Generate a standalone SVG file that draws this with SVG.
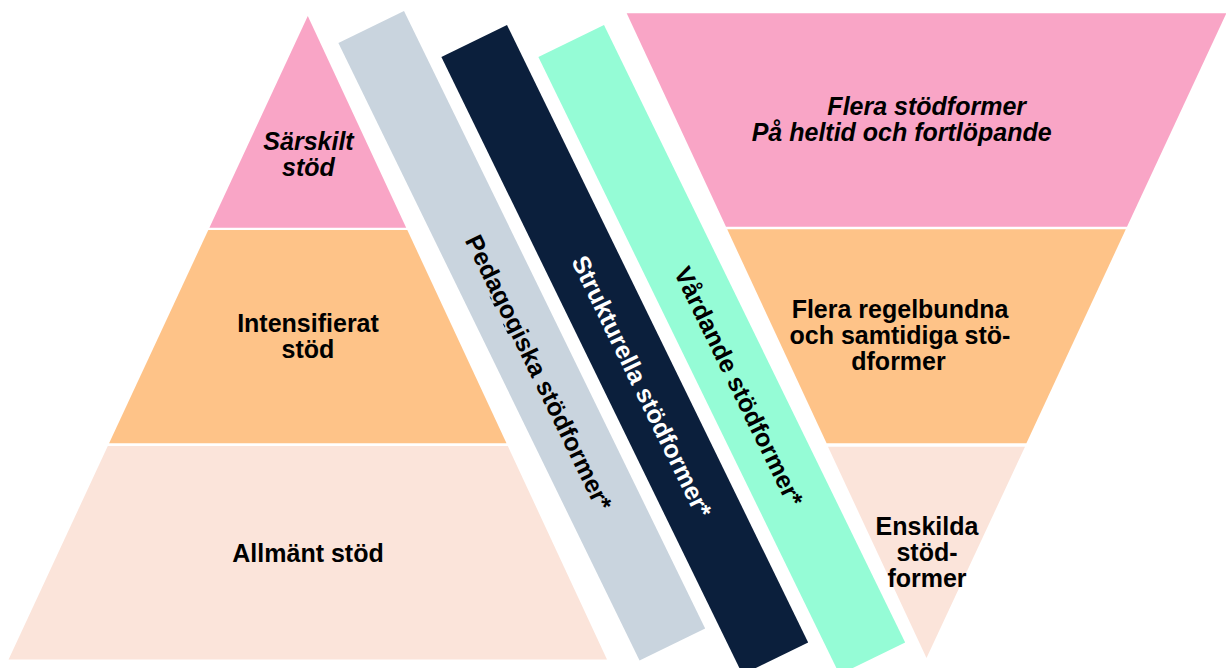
<svg xmlns="http://www.w3.org/2000/svg" width="1226" height="668" viewBox="0 0 1226 668">
  <style>
    .lbl { font-family: "Liberation Sans", Arial, sans-serif; font-size: 25px; font-weight: bold; fill: #000000; text-anchor: middle; }
    .it { font-style: italic; }
    .wht { fill: #ffffff; }
    .pink { fill: #F9A5C6; }
    .orange { fill: #FEC388; }
    .peach { fill: #FBE4DA; }
    .gray { fill: #C9D4DE; }
    .navy { fill: #0B1F3C; }
    .mint { fill: #95FCD6; }
  </style>
  <defs>
    <clipPath id="pedClip">
      <rect x="0" y="-20" width="687" height="68.3"/>
    </clipPath>
  </defs>
  <rect width="1226" height="668" fill="#ffffff"/>

  <!-- Left pyramid -->
  <g id="sarskilt-stod">
    <polygon class="pink" points="307.8,16 406.2,227.7 209.4,227.7"/>
    <text class="lbl it" x="308.5" y="150">Särskilt</text>
    <text class="lbl it" x="308.5" y="176">stöd</text>
  </g>
  <g id="intensifierat-stod">
    <polygon class="orange" points="208.3,230 407.3,230 506.5,443.3 109.1,443.3"/>
    <text class="lbl" x="308" y="331.7">Intensifierat</text>
    <text class="lbl" x="308" y="358.3">stöd</text>
  </g>
  <g id="allmant-stod">
    <polygon class="peach" points="107.8,446 507.8,446 607,659.5 8.6,659.5"/>
    <text class="lbl" x="308" y="561.7">Allmänt stöd</text>
  </g>

  <!-- Diagonal bands -->
  <g id="pedagogiska" transform="translate(404,11) rotate(64)">
    <rect class="gray" x="0" y="0" width="687" height="73"/>
    <text class="lbl" x="384" y="46" clip-path="url(#pedClip)">Pedagogiska stödformer*</text>
  </g>
  <g id="strukturella" transform="translate(507,25) rotate(64)">
    <rect class="navy" x="0" y="0" width="687" height="73"/>
    <text class="lbl wht" x="384" y="46">Strukturella stödformer*</text>
  </g>
  <g id="vardande" transform="translate(604,25) rotate(64)">
    <rect class="mint" x="0" y="0" width="687" height="73"/>
    <text class="lbl" x="384" y="46">Vårdande stödformer*</text>
  </g>

  <!-- Right inverted pyramid -->
  <g id="flera-stodformer">
    <polygon class="pink" points="626.7,13.3 1226.3,13.3 1127,226.7 726,226.7"/>
    <text class="lbl it" x="926.7" y="114.5">Flera stödformer</text>
    <text class="lbl it" x="901.7" y="140.5">På heltid och fortlöpande</text>
  </g>
  <g id="flera-regelbundna">
    <polygon class="orange" points="727.2,229.3 1125.8,229.3 1026.4,443.3 826.6,443.3"/>
    <text class="lbl" x="900" y="317.5">Flera regelbundna</text>
    <text class="lbl" x="900" y="343.5">och samtidiga stö-</text>
    <text class="lbl" x="898.5" y="369.5">dformer</text>
  </g>
  <g id="enskilda-stodformer">
    <polygon class="peach" points="828,446.7 1025,446.7 926.5,658"/>
    <text class="lbl" x="927" y="534.5">Enskilda</text>
    <text class="lbl" x="927" y="561">stöd-</text>
    <text class="lbl" x="927" y="587">former</text>
  </g>

  <g id="connectors"/>
</svg>
